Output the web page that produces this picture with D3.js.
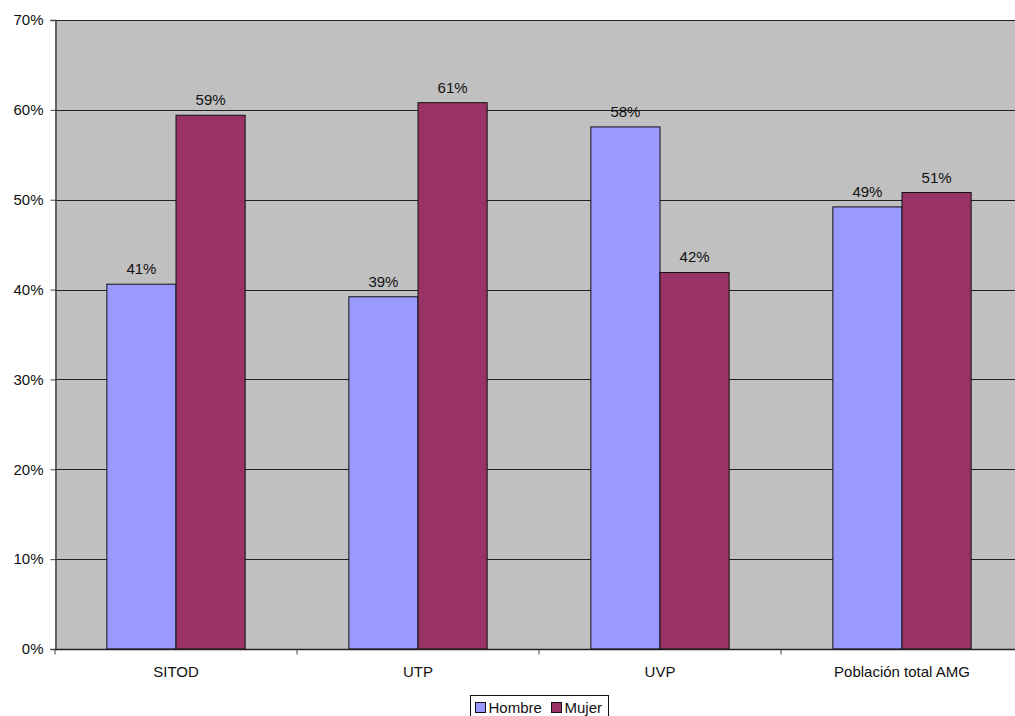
<!DOCTYPE html>
<html>
<head>
<meta charset="utf-8">
<script src="https://cdn.jsdelivr.net/npm/d3@7"></script>
<style>
  html, body { margin: 0; padding: 0; background: #fff; }
  svg { display: block; font-family: "Liberation Sans", Arial, sans-serif; }
</style>
</head>
<body>
<svg id="chart" width="1015" height="716"></svg>
<script>
// Share of men and women per group (percent)
const categories = ["SITOD", "UTP", "UVP", "Población total AMG"];
const seriesNames = ["Hombre", "Mujer"];
const hombre = [40.6, 39.2, 58.1, 49.2];
const mujer = [59.4, 60.8, 41.9, 50.8];
const yTicks = [0, 10, 20, 30, 40, 50, 60, 70];
const colors = ["#9999FF", "#993366"];

const svg = d3.select("#chart");
const margin = { left: 55, top: 20, right: -8, bottom: 67 };
const W = 1015, H = 716;
const x0 = margin.left, x1 = W - margin.right;
const y0 = margin.top, y1 = H - margin.bottom;
const FS = 15;

const x = d3.scaleBand().domain(categories).range([x0, x1]).paddingInner(0).paddingOuter(0);
const inner = d3.scaleBand().domain(seriesNames).range([0, x.bandwidth()]).paddingOuter(0.75).paddingInner(0);
const y = d3.scaleLinear().domain([0, 70]).range([y1, y0]);

// plot background
svg.append("rect").attr("x", x0).attr("y", y0).attr("width", x1 - x0).attr("height", y1 - y0).attr("fill", "#C0C0C0");

// gridlines
svg.append("g").selectAll("line").data(yTicks.slice(1)).join("line")
  .attr("x1", x0).attr("x2", x1)
  .attr("y1", d => Math.round(y(d)) + 0.5).attr("y2", d => Math.round(y(d)) + 0.5)
  .attr("stroke", "#222").attr("stroke-width", 1);

// bars
const data = categories.map((c, i) => ({ cat: c, vals: [
  { s: "Hombre", v: hombre[i], color: colors[0] },
  { s: "Mujer", v: mujer[i], color: colors[1] }
]}));

const groups = svg.append("g").selectAll("g").data(data).join("g")
  .attr("transform", d => `translate(${x(d.cat)},0)`);

groups.selectAll("rect").data(d => d.vals).join("rect")
  .attr("x", d => inner(d.s))
  .attr("y", d => y(d.v))
  .attr("width", inner.bandwidth())
  .attr("height", d => y(0) - y(d.v))
  .attr("fill", d => d.color)
  .attr("stroke", "#111").attr("stroke-width", 1);

groups.selectAll("text").data(d => d.vals).join("text")
  .attr("x", d => inner(d.s) + inner.bandwidth() / 2)
  .attr("y", d => y(d.v) - 10)
  .attr("text-anchor", "middle")
  .attr("font-size", FS).attr("fill", "#111")
  .text(d => Math.round(d.v) + "%");

// y axis
const yAxis = d3.axisLeft(y).tickValues(yTicks).tickFormat(d => d + "%").tickSize(5).tickPadding(7);
const gy = svg.append("g").attr("transform", `translate(${x0 + 0.5},0)`).call(yAxis);
gy.select(".domain").attr("stroke", "#444").attr("stroke-width", 1.5);
gy.selectAll(".tick line").attr("stroke", "#444");
gy.selectAll(".tick text").attr("font-size", FS).attr("fill", "#111").attr("font-family", "Liberation Sans, Arial, sans-serif");

// x axis
const gx = svg.append("g").attr("transform", `translate(0,${y1 + 0.5})`);
gx.append("line").attr("x1", x0).attr("x2", x1).attr("stroke", "#222").attr("stroke-width", 1.5);
gx.selectAll("line.tk").data(categories.map(c => x(c)).concat([x1])).join("line")
  .attr("class", "tk").attr("x1", d => d).attr("x2", d => d).attr("y1", 0).attr("y2", 5)
  .attr("stroke", "#444");
gx.selectAll("text").data(categories).join("text")
  .attr("x", d => x(d) + x.bandwidth() / 2).attr("y", 27.5)
  .attr("text-anchor", "middle").attr("font-size", FS).attr("fill", "#111")
  .text(d => d);

// legend
const lg = svg.append("g").attr("transform", "translate(470.5,695.5)");
lg.append("rect").attr("width", 138).attr("height", 26).attr("fill", "#fff").attr("stroke", "#111");
const items = lg.selectAll("g").data(seriesNames).join("g")
  .attr("transform", (d, i) => `translate(${i === 0 ? 5 : 81},7)`);
items.append("rect").attr("width", 10).attr("height", 10).attr("fill", (d, i) => colors[i]).attr("stroke", "#111");
items.append("text").attr("x", 13).attr("y", 10.5).attr("font-size", FS).attr("fill", "#111").text(d => d);
</script>
</body>
</html>
